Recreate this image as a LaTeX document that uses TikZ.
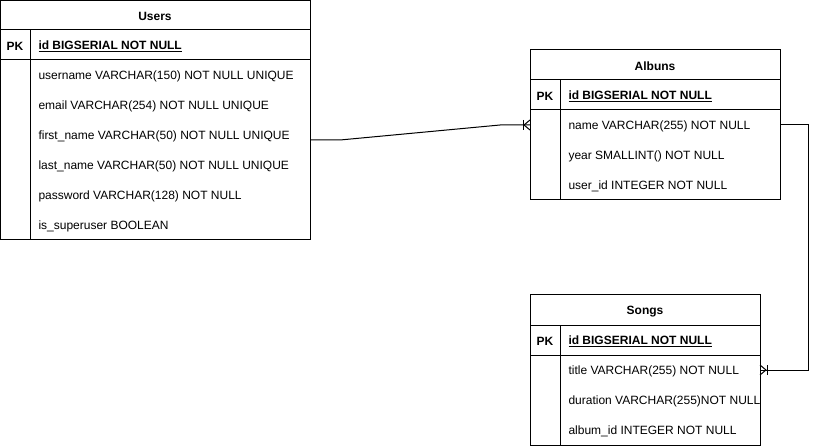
\documentclass[tikz,border=0pt]{standalone}
\usepackage{fontspec}
\setmainfont{Liberation Sans}
\begin{document}
\begin{tikzpicture}[x=1pt,y=-1pt,line width=1pt,
  tbl/.style={draw,line width=1pt,inner sep=0pt,outer sep=0pt,anchor=north west},
  txt/.style={anchor=west,inner sep=0pt,yshift=-1.5pt,font=\fontsize{12}{14}\selectfont},
  ttl/.style={inner sep=0pt,yshift=-1.5pt,font=\fontsize{12}{14}\selectfont\bfseries},
  pk/.style={inner sep=0pt,yshift=-1.5pt,font=\fontsize{12}{14}\selectfont\bfseries},
  pkt/.style={anchor=west,inner sep=0pt,yshift=-1.5pt,font=\fontsize{12}{14}\selectfont\bfseries},
  conn/.style={draw,line width=1pt}]
\useasboundingbox (0,0) rectangle (819,446);

% Users
\node[tbl,minimum width=309.5pt,minimum height=239.5pt] (users) at (0.5,0.5) {};
\draw (0.5,30) -- (310,30);
\draw (0.5,60) -- (310,60);
\draw (30,30) -- (30,240);
\node[ttl] (ut) at (155,15) {Users};
\node[pk] (upk) at (15,45) {PK};
\node[pkt] (uid) at (38,45) {\underline{id BIGSERIAL NOT NULL}};
\node[txt] (u1) at (38,75) {username VARCHAR(150) NOT NULL UNIQUE};
\node[txt] (u2) at (38,105) {email VARCHAR(254) NOT NULL UNIQUE};
\node[txt] (u3) at (38,135) {first\_name VARCHAR(50) NOT NULL UNIQUE};
\node[txt] (u4) at (38,165) {last\_name VARCHAR(50) NOT NULL UNIQUE};
\node[txt] (u5) at (38,195) {password VARCHAR(128) NOT NULL};
\node[txt] (u6) at (38,225) {is\_superuser BOOLEAN};

% Albuns
\node[tbl,minimum width=250pt,minimum height=150pt] (albums) at (530,50) {};
\draw (530,80) -- (780,80);
\draw (530,110) -- (780,110);
\draw (560,80) -- (560,200);
\node[ttl] (at) at (655,65) {Albuns};
\node[pk] (apk) at (545,95) {PK};
\node[pkt] (aid) at (568,95) {\underline{id BIGSERIAL NOT NULL}};
\node[txt] (a1) at (568,125) {name VARCHAR(255) NOT NULL};
\node[txt] (a2) at (568,155) {year SMALLINT() NOT NULL};
\node[txt] (a3) at (568,185) {user\_id INTEGER NOT NULL};

% Songs
\node[tbl,minimum width=230pt,minimum height=150pt] (songs) at (530,295) {};
\draw (530,325) -- (760,325);
\draw (530,355) -- (760,355);
\draw (560,325) -- (560,445);
\node[ttl] (st) at (645,310) {Songs};
\node[pk] (spk) at (545,340) {PK};
\node[pkt] (sid) at (568,340) {\underline{id BIGSERIAL NOT NULL}};
\node[txt] (s1) at (568,370) {title VARCHAR(255) NOT NULL};
\node[txt] (s2) at (568,400) {duration VARCHAR(255)NOT NULL};
\node[txt] (s3) at (568,430) {album\_id INTEGER NOT NULL};

% connectors
\coordinate (b1) at ([yshift=-3.5pt]users.east |- u3);
\coordinate (e1) at ([yshift=1.5pt]albums.west |- a1);
\coordinate (b2) at ([yshift=1.5pt]albums.east |- a1);
\coordinate (e2) at ([yshift=1.5pt]songs.east |- s1);
\draw[conn] (b1) -- ++(30,0) -- ([xshift=-30pt]e1) -- (e1);
\draw[conn] ([shift={(-7pt,5pt)}]e1) -- ++(0,10);
\draw[conn] ([shift={(0pt,5pt)}]e1) -- ([xshift=-6pt]e1) -- ([shift={(0pt,-5pt)}]e1);

\draw[conn] (b2) -- ++(28,0) |- (e2);
\draw[conn] ([shift={(7pt,5pt)}]e2) -- ++(0,10);
\draw[conn] ([shift={(0pt,5pt)}]e2) -- ([xshift=6pt]e2) -- ([shift={(0pt,-5pt)}]e2);
\end{tikzpicture}
\end{document}
